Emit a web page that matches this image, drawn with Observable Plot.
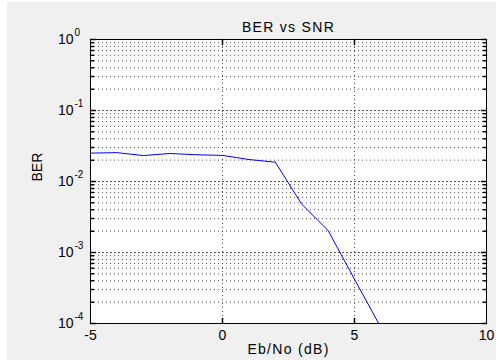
<!DOCTYPE html>
<html>
<head>
<meta charset="utf-8">
<script src="https://cdn.jsdelivr.net/npm/d3@7"></script>
<script src="https://cdn.jsdelivr.net/npm/@observablehq/plot@0.6"></script>
<style>
  html, body { margin: 0; padding: 0; background: #ffffff; }
  #chart {
    width: 496px;
    height: 360px;
    background-color: #ffffff;
    background-image: linear-gradient(#f0f0f0, #f0f0f0);
    background-position: 7px 2px;
    background-size: 489px 358px;
    background-repeat: no-repeat;
  }
  #chart svg { display: block; }
</style>
</head>
<body>
<div id="chart"></div>
<script>
// ---- data ----
const ebno = [-5, -4, -3, -2, -1, 0, 1, 2, 3, 4, 5, 6];
const ber = [0.0251, 0.0255, 0.0232, 0.0248, 0.0238, 0.0233, 0.0204, 0.0187, 0.0048, 0.00204, 0.00042, 0.000088];

const xTicks = [-5, 0, 5, 10];
const xTickLabels = ["-5", "0", "5", "10"];
const yExponents = [0, -1, -2, -3, -4];
const yExpLabels = ["0", "-1", "-2", "-3", "-4"];
const minorMultipliers = [2, 3, 4, 5, 6, 7, 8, 9];

const titleText = "BER vs SNR";
const xLabelText = "Eb/No (dB)";
const yLabelText = "BER";

// ---- derived tables ----
const points = ebno.map((x, i) => ({x, y: ber[i]}));
const yMajor = yExponents.map(e => Math.pow(10, e));
const yMinor = [];
for (const e of yExponents.slice(1)) for (const m of minorMultipliers) yMinor.push(m * Math.pow(10, e));
const xGrid = xTicks.slice(1, -1);
const yLabelRows = yExponents.map((e, i) => ({v: Math.pow(10, e), exp: yExpLabels[i]}));
const xLabelRows = xTicks.map((v, i) => ({v, label: xTickLabels[i]}));

const tickShape = {draw(context, l) { context.moveTo(0, 0); context.lineTo(0, -l); }};

const chart = Plot.plot({
  width: 496,
  height: 360,
  marginLeft: 90,
  marginRight: 10,
  marginTop: 39,
  marginBottom: 37,
  style: {fontFamily: "'Liberation Sans', Arial, sans-serif", fontSize: "14px", color: "#000", background: "transparent"},
  x: {domain: [-5, 10], axis: null},
  y: {type: "log", domain: [1e-4, 1], axis: null},
  marks: [
    Plot.frame({fill: "#ffffff", stroke: null}),
    // grid
    Plot.ruleY(yMinor, {stroke: "#222", strokeWidth: 1, strokeDasharray: "1,3", strokeOpacity: 0.8}),
    Plot.ruleY(yMajor.slice(1, -1), {stroke: "#222", strokeWidth: 1, strokeDasharray: "2,2", strokeOpacity: 0.8}),
    Plot.ruleX(xGrid, {stroke: "#222", strokeWidth: 1, strokeDasharray: "1,3", strokeOpacity: 0.8}),
    // data
    Plot.line(points, {x: "x", y: "y", stroke: "#0000ff", strokeWidth: 1, clip: true}),
    // tick marks (inward)
    Plot.vector(yMajor, {y: d => d, frameAnchor: "left", rotate: 90, length: 5, anchor: "start", shape: tickShape, stroke: "#000"}),
    Plot.vector(yMinor, {y: d => d, frameAnchor: "left", rotate: 90, length: 3, anchor: "start", shape: tickShape, stroke: "#000"}),
    Plot.vector(yMajor, {y: d => d, frameAnchor: "right", rotate: -90, length: 5, anchor: "start", shape: tickShape, stroke: "#000"}),
    Plot.vector(yMinor, {y: d => d, frameAnchor: "right", rotate: -90, length: 3, anchor: "start", shape: tickShape, stroke: "#000"}),
    Plot.vector(xGrid, {x: d => d, frameAnchor: "bottom", rotate: 0, length: 5, anchor: "start", shape: tickShape, stroke: "#000"}),
    Plot.vector(xGrid, {x: d => d, frameAnchor: "top", rotate: 180, length: 5, anchor: "start", shape: tickShape, stroke: "#000"}),
    // frame
    Plot.frame({stroke: "#000", strokeWidth: 1}),
    // y tick labels: 10 with superscript exponent
    Plot.text(yLabelRows, {y: "v", text: () => "10", frameAnchor: "left", textAnchor: "end", dx: -17, fontSize: 14, fill: "#000"}),
    Plot.text(yLabelRows, {y: "v", text: "exp", frameAnchor: "left", textAnchor: "start", dx: -16, dy: -7, fontSize: 10, fill: "#000"}),
    // x tick labels
    Plot.text(xLabelRows, {x: "v", text: "label", frameAnchor: "bottom", lineAnchor: "top", dy: 7, fontSize: 14, fill: "#000"}),
    // title and axis labels
    Plot.text([titleText], {text: d => d, frameAnchor: "top", dy: -17, fontSize: 14, fill: "#000"}),
    Plot.text([xLabelText], {text: d => d, frameAnchor: "bottom", dy: 30, fontSize: 14, fill: "#000"}),
    Plot.text([yLabelText], {text: d => d, frameAnchor: "left", dx: -53, rotate: -90, fontSize: 14, fill: "#000"})
  ]
});

document.getElementById("chart").appendChild(chart);

// slightly wider letter spacing as in the reference's rendering
chart.querySelectorAll("text").forEach(t => {
  if (t.textContent === titleText || t.textContent === xLabelText) {
    t.style.letterSpacing = "1.3px";
  }
});
</script>
</body>
</html>
